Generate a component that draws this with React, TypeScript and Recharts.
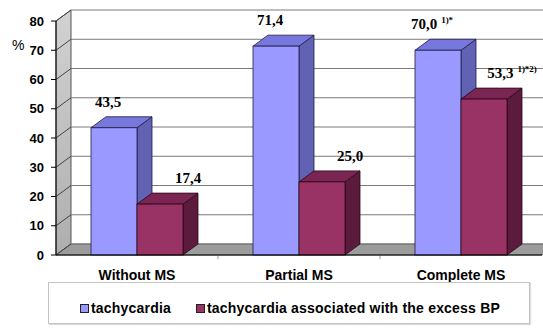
import { Bar, BarChart, CartesianGrid, LabelList, Legend, XAxis, YAxis } from "recharts";

const categories = ["Without MS", "Partial MS", "Complete MS"];
const tachycardia = [43.5, 71.4, 70.0];
const tachycardiaExcessBP = [17.4, 25.0, 53.3];
const tachycardiaNotes = ["", "", "1)*"];
const excessBPNotes = ["", "", "1)*2)"];
const yTicks = [0, 10, 20, 30, 40, 50, 60, 70, 80];

const data = categories.map((name, i) => ({
  name,
  tachycardia: tachycardia[i],
  excess: tachycardiaExcessBP[i],
}));

// 3d depth offset
const DX = 15;
const DY = -11;

const SANS = "Arial, 'Liberation Sans', sans-serif";
const SERIF = "'Times New Roman', 'Liberation Serif', serif";

const BLUE = { front: "#9999ff", top: "#7777dd", side: "#6262b4", stroke: "#1c1c44" };
const WINE = { front: "#993366", top: "#7a2552", side: "#5c1a3c", stroke: "#2a0818" };

function makeBar(c: typeof BLUE) {
  return (props: any) => {
    const { x, y, width: w, height: h } = props;
    if (w == null || h == null) return <g />;
    return (
      <g>
        <path
          d={`M${x + w},${y + h} L${x + w + DX},${y + h + DY} L${x + w + DX},${y + DY} L${x + w},${y} Z`}
          fill={c.side}
          stroke={c.stroke}
          strokeWidth={0.8}
        />
        <path
          d={`M${x},${y} L${x + DX},${y + DY} L${x + w + DX},${y + DY} L${x + w},${y} Z`}
          fill={c.top}
          stroke={c.stroke}
          strokeWidth={0.8}
        />
        <rect x={x} y={y} width={w} height={h} fill={c.front} stroke={c.stroke} strokeWidth={0.8} />
      </g>
    );
  };
}

function gridLine(props: any) {
  const { x1, x2, y1, index, x, y, width, height } = props;
  const hasBox = x != null && y != null && width != null && height != null;
  const bottom = hasBox ? y + height : 0;
  return (
    <g key={`gl-${index}`}>
      {index === 0 && hasBox && (
        <g>
          <defs>
            <linearGradient id="wallGrad" x1="0" y1="0" x2="0" y2="1">
              <stop offset="0%" stopColor="#d2d2d2" />
              <stop offset="100%" stopColor="#aeaeae" />
            </linearGradient>
          </defs>
          <path
            d={`M${x},${bottom} L${x},${y} L${x + DX},${y + DY} L${x + DX},${bottom + DY} Z`}
            fill="url(#wallGrad)"
            stroke="#555"
            strokeWidth={1}
          />
          <path
            d={`M${x},${bottom} L${x + width},${bottom} L${x + width + DX},${bottom + DY} L${x + DX},${bottom + DY} Z`}
            fill="#9c9c9c"
            stroke="#666"
            strokeWidth={1}
          />
          {[1, 2].map((k) => (
            <line
              key={k}
              x1={x + (width * k) / 3}
              y1={bottom}
              x2={x + (width * k) / 3}
              y2={bottom + 4}
              stroke="#999"
            />
          ))}
        </g>
      )}
      <line x1={x1} y1={y1} x2={x1 + DX} y2={y1 + DY} stroke="#444" strokeWidth={1} />
      <line x1={x1 + DX} y1={y1 + DY} x2={x2 + DX} y2={y1 + DY} stroke="#7a7a7a" strokeWidth={1} />
    </g>
  );
}

function makeLabel(notes: string[], anchor: "blue" | "wine") {
  return (props: any) => {
    const { x, y, width, value, index } = props;
    const cx = anchor === "blue" ? x + width / 2 - 6 : x + width + 5;
    const note = notes[index] || "";
    return (
      <text
        x={cx}
        y={y - 21}
        textAnchor="middle"
        fontFamily={SERIF}
        fontWeight="bold"
        fontSize={15}
        fill="#000"
      >
        <tspan>{Number(value).toFixed(1).replace(".", ",")}</tspan>
        {note && (
          <tspan fontSize={9} dx={4} dy={-6}>
            {note}
          </tspan>
        )}
      </text>
    );
  };
}

function CategoryTick(props: any) {
  const { x, y, payload } = props;
  return (
    <text x={x} y={y + 17} textAnchor="middle" fontFamily={SANS} fontWeight="bold" fontSize={14} fill="#000">
      {payload.value}
    </text>
  );
}

function LegendBox(props: any) {
  const items = props.payload || [];
  const lefts = [31, 147];
  return (
    <div
      style={{
        position: "relative",
        height: 40,
        border: "1px solid #c4c4c4",
        boxShadow: "1px 1px 1px #dcdcdc",
        background: "#fff",
        fontFamily: SANS,
        fontWeight: "bold",
        fontSize: 14,
        color: "#000",
      }}
    >
      {items.map((it: any, i: number) => (
        <div
          key={it.value}
          style={{ position: "absolute", left: lefts[i], top: 17, display: "flex", alignItems: "center", whiteSpace: "nowrap" }}
        >
          <span
            style={{
              display: "inline-block",
              width: 7,
              height: 7,
              background: it.color,
              border: "1px solid #222",
              marginRight: 2,
            }}
          />
          <span style={{ letterSpacing: 0.2 }}>{it.value}</span>
        </div>
      ))}
    </div>
  );
}

export default function App() {
  return (
    <div style={{ position: "absolute", left: 0, top: 0, background: "#fff" }}>
      <BarChart
        width={543}
        height={328}
        data={data}
        margin={{ top: 21, right: 1, left: 0, bottom: 4 }}
        barCategoryGap={35}
        barGap={0}
      >
        <CartesianGrid vertical={false} horizontal={gridLine} />
        <XAxis
          dataKey="name"
          height={27}
          tickLine={false}
          axisLine={{ stroke: "#000" }}
          tick={CategoryTick}
          interval={0}
        />
        <YAxis
          width={56}
          domain={[0, 80]}
          ticks={yTicks}
          interval={0}
          tickSize={5}
          tickMargin={7}
          axisLine={{ stroke: "#000" }}
          tickLine={{ stroke: "#000" }}
          tick={{ fontFamily: SANS, fontWeight: "bold", fontSize: 13, fill: "#000" }}
          label={{
            content: (p: any) => (
              <text x={(p.viewBox?.x ?? 0) + 12} y={(p.viewBox?.y ?? 21) + 29} fontFamily={SANS} fontSize={14} fill="#000">
                %
              </text>
            ),
          }}
        />
        <Legend
          verticalAlign="bottom"
          content={LegendBox}
          wrapperStyle={{ left: 48, width: 482, bottom: 4 }}
        />
        <Bar dataKey="tachycardia" name="tachycardia" fill={BLUE.front} shape={makeBar(BLUE)} isAnimationActive={false}>
          <LabelList dataKey="tachycardia" content={makeLabel(tachycardiaNotes, "blue")} />
        </Bar>
        <Bar
          dataKey="excess"
          name="tachycardia associated with the excess BP"
          fill={WINE.front}
          shape={makeBar(WINE)}
          isAnimationActive={false}
        >
          <LabelList dataKey="excess" content={makeLabel(excessBPNotes, "wine")} />
        </Bar>
      </BarChart>
    </div>
  );
}
